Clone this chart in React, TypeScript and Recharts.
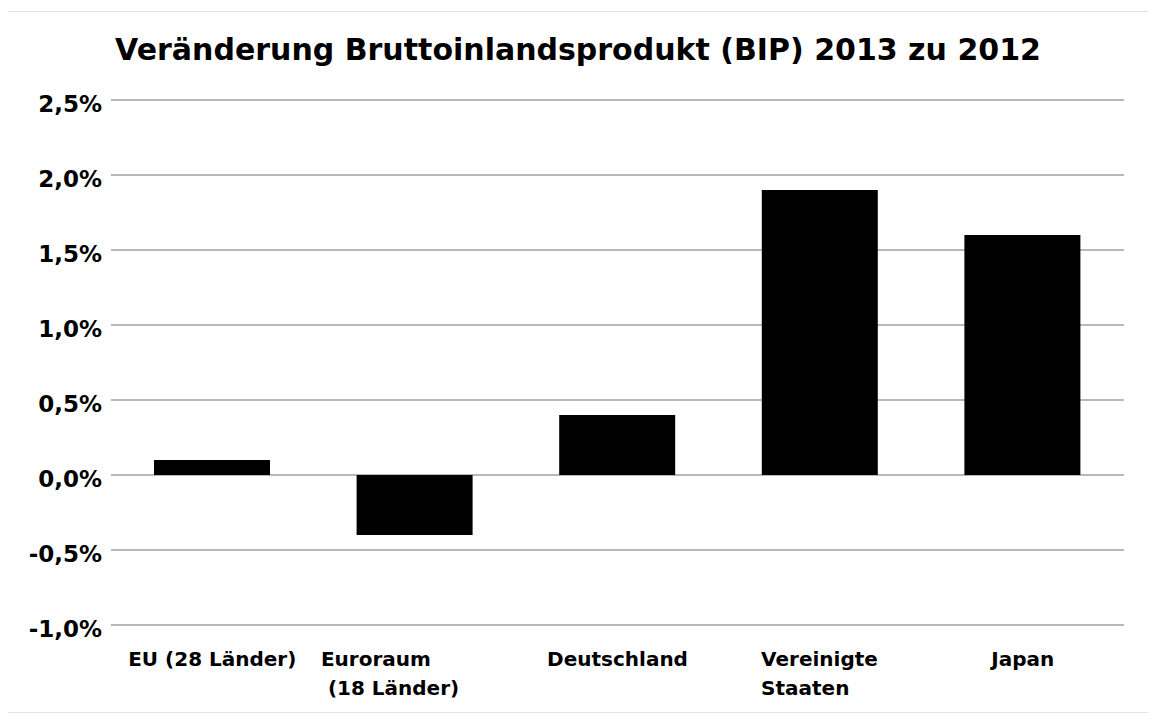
import { BarChart, Bar, XAxis, YAxis, CartesianGrid } from "recharts";

const countries = ["EU (28 Länder)", "Euroraum\n(18 Länder)", "Deutschland", "Vereinigte\nStaaten", "Japan"];
const bipChange = [0.1, -0.4, 0.4, 1.9, 1.6];
const yTicks = [-1, -0.5, 0, 0.5, 1, 1.5, 2, 2.5];

const data = countries.map((name, i) => ({ name, value: bipChange[i] }));

const FONT = "'DejaVu Sans', sans-serif";

// per-label line shifts (left-aligned multi-line labels in the original)
const lineShift: Record<number, number[]> = {
  1: [-94, -87],
  3: [-59, -59],
};

function CountryTick(props: any) {
  const { x, y, payload, index } = props;
  const lines: string[] = String(payload.value).split("\n");
  const shift = lineShift[index];
  return (
    <g>
      {lines.map((line, i) => (
        <text
          key={i}
          x={shift ? x + shift[i] : x}
          y={y + 33 + i * 29}
          textAnchor={shift ? "start" : "middle"}
          fontFamily={FONT}
          fontWeight="bold"
          fontSize={20}
          fill="#000"
        >
          {line}
        </text>
      ))}
    </g>
  );
}

const fmt = (v: number) => v.toFixed(1).replace(".", ",") + "%";

export default function App() {
  return (
    <div
      style={{
        position: "relative",
        width: 1140,
        height: 700,
        marginLeft: -1,
        marginTop: 3,
        border: "1px solid #e4e4e4",
        background: "#fff",
      }}
    >
      <div
        style={{
          position: "absolute",
          top: 20,
          left: 0,
          width: "100%",
          textAlign: "center",
          fontFamily: FONT,
          fontWeight: "bold",
          fontSize: 30,
          color: "#000",
        }}
      >
        Veränderung Bruttoinlandsprodukt (BIP) 2013 zu 2012
      </div>
      <BarChart
        width={1138}
        height={698}
        data={data}
        margin={{ top: 88, right: 22, bottom: 0, left: 0 }}
        barSize={116}
      >
        <CartesianGrid vertical={false} stroke="#a0a0a0" strokeWidth={1.5} />
        <XAxis
          dataKey="name"
          axisLine={false}
          tickLine={false}
          height={85}
          interval={0}
          tick={<CountryTick />}
        />
        <YAxis
          domain={[-1, 2.5]}
          ticks={yTicks}
          tickFormatter={fmt}
          axisLine={false}
          tickLine={false}
          tickSize={0}
          tickMargin={9}
          width={103}
          tick={{ fontFamily: FONT, fontWeight: "bold", fontSize: 23, fill: "#000", dy: 4 }}
        />
        <Bar dataKey="value" fill="#000" isAnimationActive={false} />
      </BarChart>
    </div>
  );
}
